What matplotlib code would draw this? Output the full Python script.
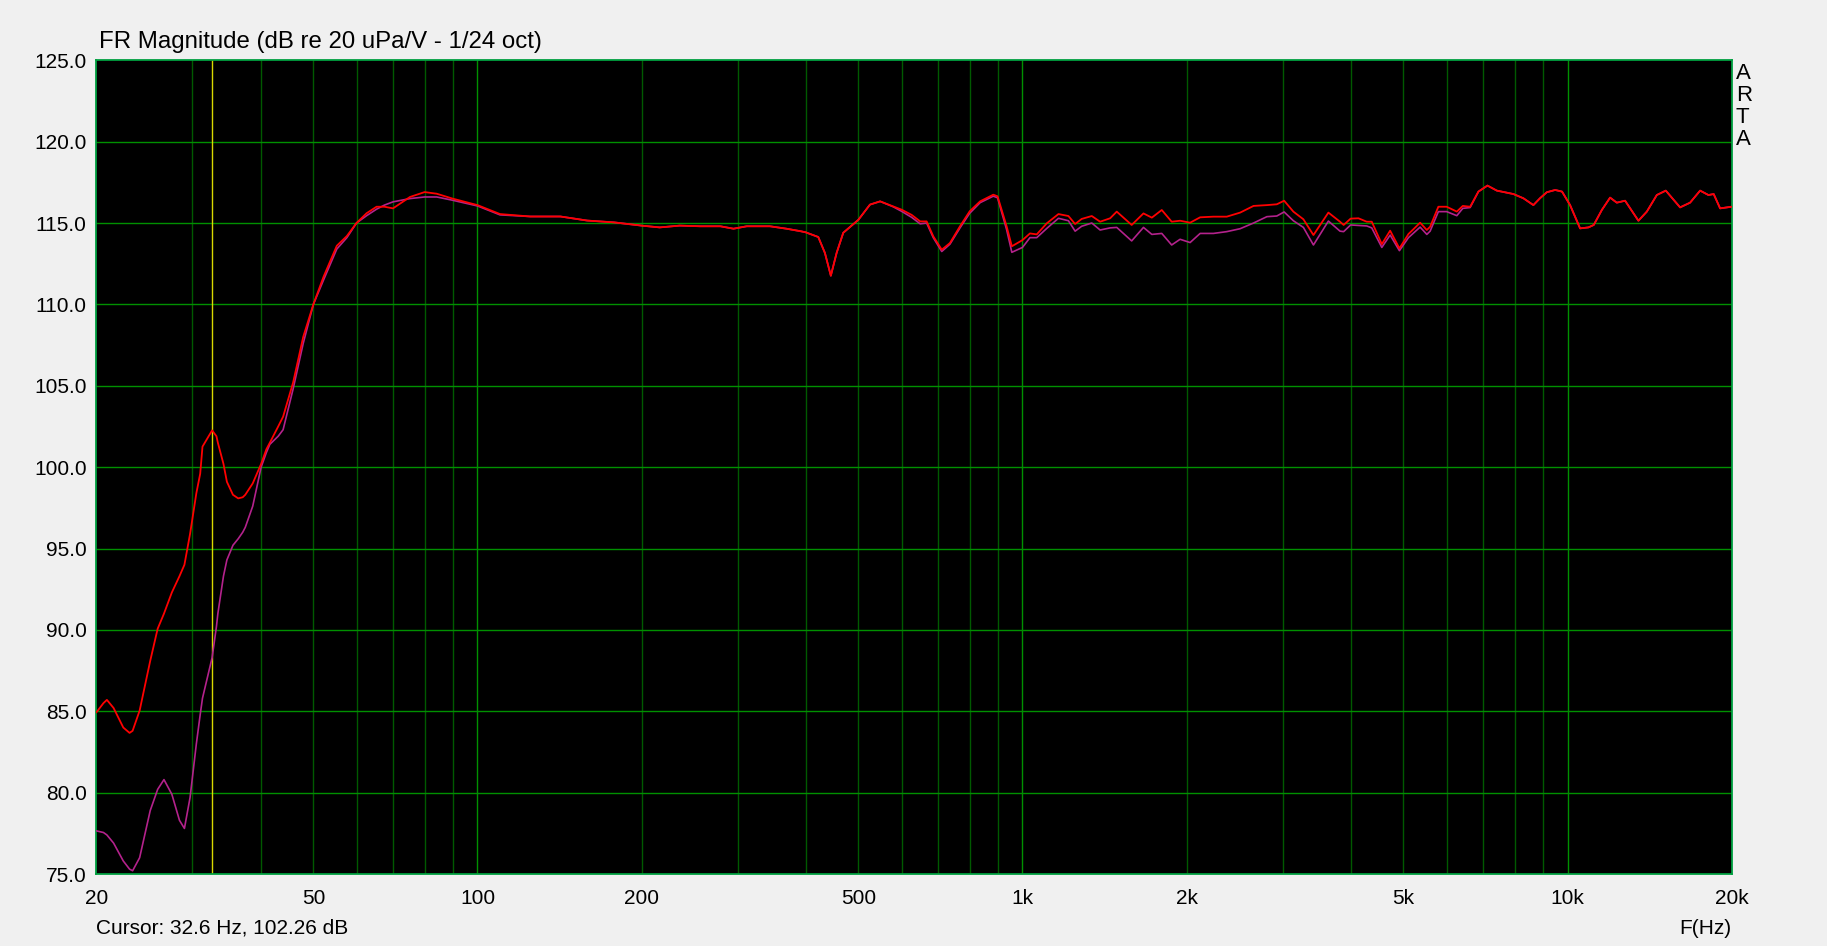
import matplotlib
matplotlib.use("Agg")
import matplotlib.pyplot as plt
from matplotlib.ticker import FixedLocator, FixedFormatter, NullLocator

plt.rcParams['font.family'] = ['Liberation Sans', 'DejaVu Sans']

# frequency (Hz) and two measured SPL curves (dB)
freq = [20, 20.6, 20.9, 21.5, 22.4, 23.0, 23.3, 24.0, 25.1, 25.9, 26.6, 27.5, 28.4, 29.0,
        29.7, 30.5, 31.0, 31.3, 32.6, 33.2, 33.4, 34.2, 34.7, 35.6, 36.4, 37.1, 37.5, 38.7,
        40.1, 41.0, 41.6, 43.1, 44.0, 45.9, 47.9, 50, 52.2, 55.2, 57.6, 60, 62.6, 65.3,
        67.5, 70, 75.2, 80, 84.2, 90, 100, 110, 125, 142, 159, 178, 200, 216, 235, 256,
        279, 295, 312, 344, 369, 391, 400, 422, 434, 445, 456, 469, 500, 525, 548, 579,
        600, 626, 649, 667, 686, 711, 736, 768, 800, 836, 884, 900, 935, 956, 1000, 1032,
        1062, 1108, 1164, 1214, 1249, 1284, 1340, 1388, 1448, 1489, 1586, 1667, 1727, 1801,
        1878, 1946, 2030, 2118, 2240, 2370, 2508, 2654, 2808, 2928, 3020, 3140, 3276, 3418,
        3641, 3824, 3883, 4000, 4134, 4281, 4373, 4563, 4726, 4915, 5106, 5364, 5518, 5596,
        5794, 6000, 6264, 6424, 6626, 6862, 7129, 7418, 7956, 8298, 8656, 8900, 9160, 9490,
        9770, 10108, 10544, 10922, 11170, 11558, 11968, 12312, 12752, 13490, 13978, 14580,
        15144, 16088, 16780, 17508, 18132, 18540, 19050, 20000]

spl_red = [84.94, 85.5, 85.7, 85.2, 84.0, 83.67, 83.8, 85.04, 88.1, 90.07, 91.0, 92.3, 93.3, 94.0,
           95.9, 98.4, 99.6, 101.26, 102.26, 101.9, 101.5, 100.2, 99.1, 98.3, 98.08, 98.15, 98.3, 99.0,
           100.2, 101.1, 101.5, 102.5, 103.1, 105.2, 108.0, 110.0, 111.7, 113.6, 114.2, 115.0, 115.6, 116.0,
           116.0, 115.9, 116.6, 116.9, 116.8, 116.5, 116.1, 115.55, 115.4, 115.4, 115.15, 115.04, 114.84, 114.73, 114.84, 114.8,
           114.8, 114.65, 114.8, 114.8, 114.65, 114.5, 114.43, 114.14, 113.16, 111.76, 113.16, 114.4, 115.2, 116.13, 116.33, 116.02,
           115.82, 115.5, 115.1, 115.1, 114.18, 113.36, 113.77, 114.8, 115.72, 116.33, 116.74, 116.64, 114.8, 113.57, 113.95, 114.36,
           114.3, 114.98, 115.55, 115.43, 114.94, 115.25, 115.43, 115.08, 115.29, 115.7, 114.88, 115.59, 115.33, 115.8,
           115.08, 115.14, 115.02, 115.35, 115.39, 115.39, 115.64, 116.05, 116.1, 116.15, 116.37, 115.7, 115.23, 114.26,
           115.64, 115.08, 114.88, 115.27, 115.29, 115.08, 115.08, 113.7, 114.53, 113.44, 114.32, 115.02, 114.57, 114.77,
           116.0, 116.0, 115.7, 116.05, 116.0, 116.93, 117.3, 116.99, 116.78, 116.52, 116.1, 116.52, 116.89, 117.03,
           116.93, 116.1, 114.67, 114.73, 114.88, 115.8, 116.56, 116.25, 116.37, 115.14, 115.7, 116.72,
           116.99, 115.96, 116.25, 116.99, 116.72, 116.78, 115.9, 116.0]

spl_mag = [77.65, 77.55, 77.4, 76.9, 75.8, 75.3, 75.2, 76.0, 78.9, 80.2, 80.8, 79.9, 78.3, 77.8,
           79.7, 83.0, 84.8, 85.8, 88.3, 90.2, 91.0, 93.3, 94.3, 95.2, 95.6, 96.0, 96.3, 97.6,
           100.0, 100.9, 101.4, 101.9, 102.3, 104.8, 107.6, 110.0, 111.5, 113.4, 114.1, 115.0, 115.45, 115.85,
           116.1, 116.3, 116.5, 116.6, 116.6, 116.4, 116.05, 115.5, 115.4, 115.4, 115.15, 115.04, 114.84, 114.73, 114.84, 114.8,
           114.8, 114.65, 114.8, 114.8, 114.65, 114.5, 114.43, 114.14, 113.16, 111.76, 113.16, 114.4, 115.2, 116.13, 116.33, 116.0,
           115.72, 115.35, 114.95, 115.0, 114.1, 113.25, 113.7, 114.7, 115.6, 116.25, 116.65, 116.55, 114.6, 113.2, 113.5, 114.1,
           114.1, 114.67, 115.29, 115.14, 114.5, 114.8, 115.0, 114.57, 114.7, 114.73, 113.9, 114.73, 114.3, 114.36,
           113.65, 114.0, 113.8, 114.36, 114.36, 114.47, 114.65, 115.0, 115.39, 115.43, 115.68, 115.14, 114.73, 113.65,
           115.12, 114.5, 114.47, 114.88, 114.85, 114.82, 114.7, 113.5, 114.26, 113.3, 114.1, 114.75, 114.3, 114.5,
           115.7, 115.7, 115.45, 115.9, 115.95, 116.93, 117.3, 116.99, 116.78, 116.52, 116.1, 116.52, 116.89, 117.03,
           116.93, 116.1, 114.67, 114.73, 114.88, 115.8, 116.56, 116.25, 116.37, 115.14, 115.7, 116.72,
           116.99, 115.96, 116.25, 116.99, 116.72, 116.78, 115.9, 116.0]

xtick_pos = [20, 50, 100, 200, 500, 1000, 2000, 5000, 10000, 20000]
xtick_lab = ["20", "50", "100", "200", "500", "1k", "2k", "5k", "10k", "20k"]
ytick_pos = [75, 80, 85, 90, 95, 100, 105, 110, 115, 120, 125]
cursor_f = 32.6

fig = plt.figure(figsize=(18.27, 9.46), dpi=100, facecolor='#f0f0f0')
ax = fig.add_axes([0.0528, 0.0761, 0.8950, 0.8602])
ax.set_facecolor('black')
ax.set_xscale('log')
ax.set_xlim(20, 20000)
ax.set_ylim(75, 125)

# grid: decades brighter, in-between lines darker
minor_f = [m * 10 ** d for d in range(1, 5) for m in range(1, 10)]
for f in minor_f:
    if f <= 20 or f >= 20000:
        continue
    if f in (100, 1000, 10000):
        ax.axvline(f, color='#009000', lw=1.0, zorder=1)
    else:
        ax.axvline(f, color='#005a00', lw=1.0, zorder=1)
for y in ytick_pos[1:-1]:
    ax.axhline(y, color='#009000', lw=1.0, zorder=1)

ax.axvline(cursor_f, color='#d8d800', lw=1.0, zorder=2)

ax.plot(freq, spl_mag, color='#b4228c', lw=1.2, zorder=3)
ax.plot(freq, spl_red, color='#ff0000', lw=1.3, zorder=4)

for s in ax.spines.values():
    s.set_color('#00a040')
    s.set_linewidth(1.3)

ax.xaxis.set_major_locator(FixedLocator(xtick_pos))
ax.xaxis.set_major_formatter(FixedFormatter(xtick_lab))
ax.xaxis.set_minor_locator(NullLocator())
ax.set_yticks(ytick_pos)
ax.set_yticklabels([f"{v:.1f}" for v in ytick_pos])
ax.tick_params(axis='both', length=0, labelsize=15, colors='black')
ax.tick_params(axis='x', pad=11)
ax.tick_params(axis='y', pad=7)

fig.text(0.054, 0.9489, "FR Magnitude (dB re 20 uPa/V - 1/24 oct)", fontsize=17.3,
         ha='left', va='baseline')
fig.text(0.0528, 1 - 928 / 946, "Cursor: 32.6 Hz, 102.26 dB", fontsize=15,
         ha='left', va='center')
fig.text(0.9478, 1 - 928 / 946, "F(Hz)", fontsize=15, ha='right', va='center')
for i, ch in enumerate("ARTA"):
    fig.text(1736 / 1827, 1 - (79 + 22 * i) / 946, ch, fontsize=16,
             ha='left', va='baseline')

fig.savefig("out.png", dpi=100, facecolor=fig.get_facecolor())
